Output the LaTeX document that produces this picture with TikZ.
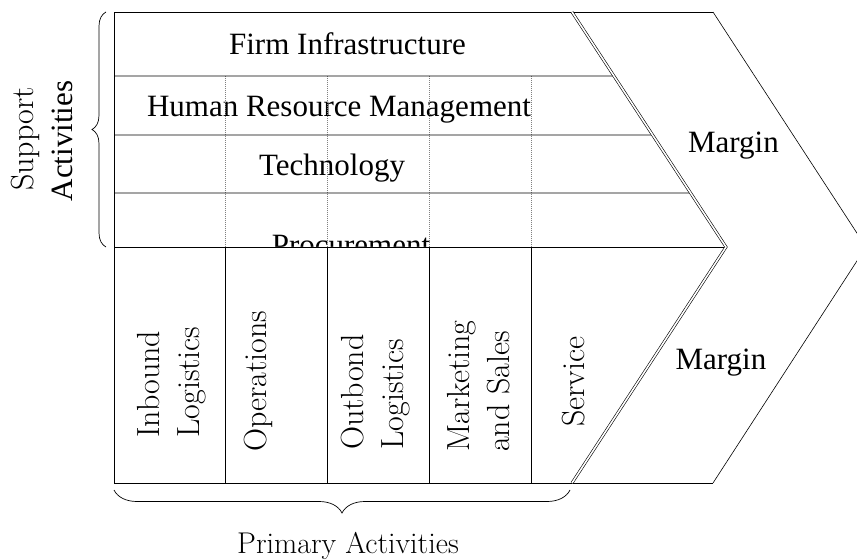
\documentclass[tikz,border=0pt]{standalone}
\usepackage{fontspec}
\newfontfamily\tnr{Liberation Serif}
\usetikzlibrary{calc,decorations.pathreplacing}
\begin{document}
\begin{tikzpicture}[x=1bp,y=-1bp,
  frame/.style={line width=0.8bp, black},
  guide/.style={gray, densely dotted, line width=1bp},
  tlabel/.style={font=\tnr\fontsize{31bp}{36bp}\selectfont, inner sep=0pt, anchor=base},
  vlabel/.style={font=\fontsize{32bp}{40bp}\selectfont, inner sep=0pt, rotate=90, anchor=north west, align=left},
  chev/.style={double, double distance=1.6bp, line width=0.6bp},
  brc/.style={decorate, decoration={brace, amplitude=#1}, line width=0.7bp}]
\useasboundingbox (0,0) rectangle (857,560);
\clip (0,0) rectangle (857,560);
% key points
\coordinate (tl) at (114,12);
\coordinate (ct) at (572,12);
\coordinate (tip) at (726,247);
\coordinate (cb) at (572,483);
\coordinate (bl) at (114,483);
\coordinate (ml) at (114,247);
\coordinate (ot) at (713,12);
\coordinate (otip) at (866,247);
\coordinate (ob) at (713,483);
\coordinate (r1) at (114,76);
\coordinate (r2) at (114,135);
\coordinate (r3) at (114,193);
\coordinate (r1e) at ($(ct)!0.2723!(tip)$);
\coordinate (r2e) at ($(ct)!0.5234!(tip)$);
\coordinate (r3e) at ($(ct)!0.7702!(tip)$);
% support activity labels
\node[tlabel] (firm) at (347.5,55) {Firm Infrastructure};
\node[tlabel] (hrm) at (339,117) {Human Resource Management};
\node[tlabel] (tech) at (332,176) {Technology};
\node[tlabel] (proc) at (351,256) {Procurement};
% primary area covers the procurement label
\fill[white] (ml) -- (tip) -- (cb) -- (bl) -- cycle;
% dotted guides in support rows
\foreach \x/\n in {225/1,327/2,429/3,531/4}{
  \coordinate (g\n t) at (\x,76);
  \coordinate (g\n m) at (\x,247);
  \coordinate (g\n b) at (\x,483);
  \draw[guide] (g\n t) -- (g\n m);
  \draw[frame] (g\n m) -- (g\n b);
}
% frame
\draw[frame] (ot) -- (tl) -- (bl) -- (ob);
\draw[frame] (r1) -- (r1e);
\draw[frame] (r2) -- (r2e);
\draw[frame] (r3) -- (r3e);
\draw[frame] (ml) -- (tip);
\draw[chev] (ct) -- (tip) -- (cb);
\draw[line width=0.6bp] (ot) -- (otip) -- (ob);
% margin labels
\node[tlabel] (m1) at (733.5,153) {Margin};
\node[tlabel] (m2) at (721,369) {Margin};
% primary activity labels
\node[vlabel] (inb) at (137,438) {Inbound\\Logistics};
\node[vlabel] (ops) at (244,452) {Operations};
\node[vlabel] (outb) at (341,450) {Outbond\\Logistics};
\node[vlabel] (mkt) at (447,452) {Marketing\\and Sales};
\node[vlabel] (srv) at (562,427) {Service};
% braces
\draw[brc=14bp] (106,247) -- (106,12);
\draw[brc=23bp] (570,490) -- (114,490);
\node[font=\fontsize{32bp}{36bp}\selectfont, inner sep=0pt, rotate=90, anchor=base] (sup) at (33,139) {Support};
\node[font=\tnr\fontsize{31bp}{36bp}\selectfont, inner sep=0pt, rotate=90, anchor=base] (act) at (72,141) {Activities};
\node[font=\fontsize{30bp}{34bp}\selectfont, inner sep=0pt, anchor=base] (prim) at (348,553) {Primary Activities};
\end{tikzpicture}
\end{document}
